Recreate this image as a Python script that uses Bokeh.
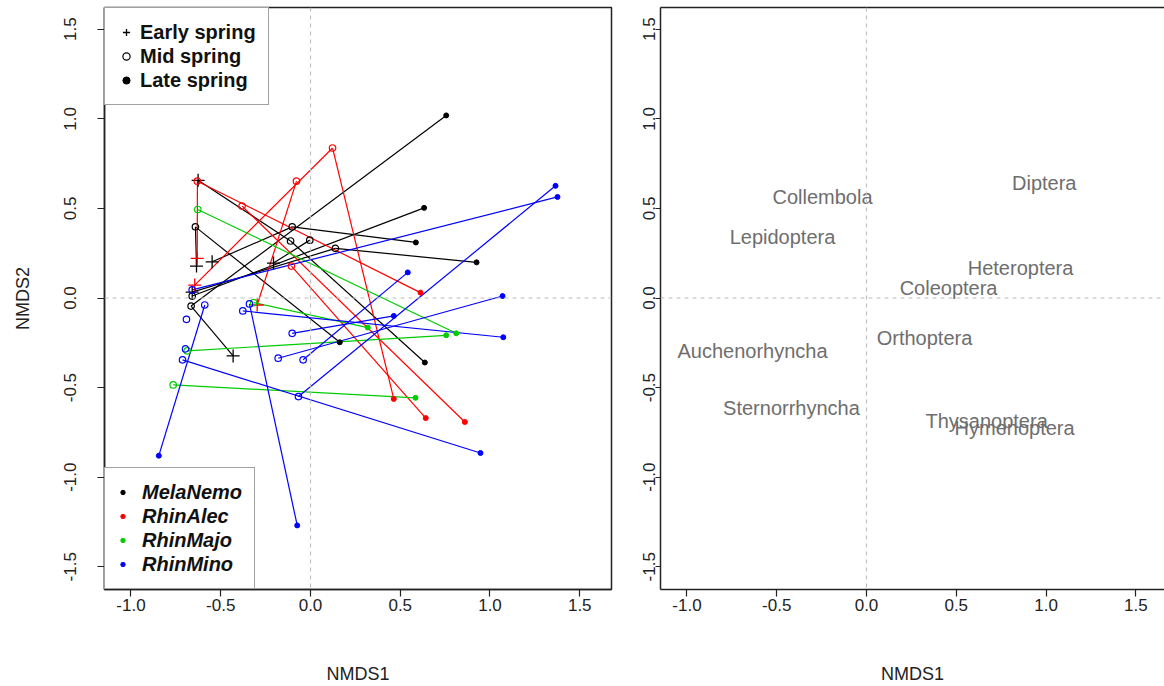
import math
from bokeh.plotting import figure
from bokeh.models import (ColumnDataSource, Legend, LegendItem, Span, FixedTicker,
                          LinearAxis, Range1d)
from bokeh.layouts import row
from bokeh.embed import file_html
from bokeh.resources import INLINE
from bokeh.core.properties import value

NaN = float("nan")

# ---------------- data ----------------
species_names = ["MelaNemo", "RhinAlec", "RhinMajo", "RhinMino"]
species_colors = ["#000000", "#FF0000", "#00CD00", "#0000FF"]
season_labels = ["Early spring", "Mid spring", "Late spring"]

# one entry per site: species index, NMDS coordinates in early / mid / late spring
site_species = [0, 0, 0, 0, 0, 0, 0,
                1, 1, 1, 1, 1,
                2, 2, 2, 2,
                3, 3, 3, 3, 3, 3, 3, 3, 3, 3, 3]
early_x = [-0.626, -0.548, -0.431, -0.635, -0.206, -0.659, NaN,
           -0.631, -0.645, -0.297, NaN, NaN,
           NaN, NaN, NaN, NaN,
           NaN, NaN, NaN, NaN, NaN, NaN, NaN, NaN, NaN, NaN, NaN]
early_y = [0.657, 0.202, -0.323, 0.178, 0.195, 0.033, NaN,
           0.221, 0.072, -0.039, NaN, NaN,
           NaN, NaN, NaN, NaN,
           NaN, NaN, NaN, NaN, NaN, NaN, NaN, NaN, NaN, NaN, NaN]
mid_x = [-0.111, -0.102, -0.665, -0.641, -0.004, 0.139, -0.659,
         -0.630, 0.123, -0.078, -0.381, -0.106,
         -0.628, -0.316, -0.687, -0.765,
         -0.659, -0.589, -0.340, -0.713, -0.102, -0.377, -0.180, -0.041, -0.067, -0.696, -0.691]
mid_y = [0.318, 0.397, -0.045, 0.397, 0.323, 0.277, 0.011,
         0.652, 0.837, 0.652, 0.513, 0.178,
         0.494, -0.026, -0.295, -0.485,
         0.045, -0.039, -0.033, -0.345, -0.197, -0.072, -0.336, -0.345, -0.550, -0.284, -0.119]
late_x = [0.637, 0.587, 0.756, 0.163, NaN, 0.925, 0.633,
          0.613, 0.464, NaN, 0.860, 0.642,
          0.812, 0.319, 0.756, 0.585,
          1.376, -0.845, -0.074, 0.947, 0.464, 1.074, 1.070, 0.542, 1.365, NaN, NaN]
late_y = [-0.360, 0.310, 1.019, -0.247, NaN, 0.199, 0.503,
          0.030, -0.563, NaN, -0.692, -0.670,
          -0.197, -0.165, -0.208, -0.557,
          0.564, -0.880, -1.269, -0.865, -0.100, -0.219, 0.011, 0.143, 0.626, NaN, NaN]

# taxa scores (right panel)
taxa_names = ["Diptera", "Collembola", "Lepidoptera", "Heteroptera", "Coleoptera",
              "Orthoptera", "Auchenorhyncha", "Sternorrhyncha", "Thysanoptera", "Hymenoptera"]
taxa_x = [0.99, -0.245, -0.468, 0.858, 0.457, 0.323, -0.635, -0.418, 0.669, 0.825]
taxa_y = [0.64, 0.563, 0.34, 0.167, 0.056, -0.223, -0.295, -0.613, -0.685, -0.724]

x_ticks = [-1.0, -0.5, 0.0, 0.5, 1.0, 1.5]
y_ticks = [-1.5, -1.0, -0.5, 0.0, 0.5, 1.0, 1.5]
tick_labels = {t: f"{t:.1f}" for t in sorted(set(x_ticks + y_ticks))}

FONT = "Liberation Sans"
AXIS_COL = "#222222"


def ok(v):
    return not (isinstance(v, float) and math.isnan(v))


def style_axes(p, show_ylabel, ylab="NMDS2"):
    p.xaxis.axis_label = "NMDS1"
    p.yaxis.axis_label = ylab if show_ylabel else None
    for ax in (p.xaxis[0], p.yaxis[0]):
        ax.axis_label_text_font = FONT
        ax.axis_label_text_font_style = "normal"
        ax.axis_label_text_font_size = "18px"
        ax.axis_label_text_color = AXIS_COL
        ax.major_label_text_font = FONT
        ax.major_label_text_font_size = "17px"
        ax.major_label_text_color = AXIS_COL
        ax.major_tick_out = 7
        ax.major_tick_in = 0
        ax.minor_tick_out = 0
        ax.minor_tick_in = 0
        ax.axis_line_color = AXIS_COL
        ax.axis_line_width = 1.5
        ax.major_tick_line_color = AXIS_COL
        ax.major_tick_line_width = 1.2
        ax.major_label_overrides = tick_labels
    p.xaxis[0].ticker = FixedTicker(ticks=x_ticks, minor_ticks=[])
    p.yaxis[0].ticker = FixedTicker(ticks=y_ticks, minor_ticks=[])
    p.xaxis[0].major_label_standoff = 2
    p.xaxis[0].axis_label_standoff = 50
    p.yaxis[0].major_label_orientation = "parallel"
    p.yaxis[0].major_label_standoff = 21
    p.yaxis[0].axis_label_standoff = 29
    p.xgrid.visible = False
    p.ygrid.visible = False
    for dim in ("width", "height"):
        p.add_layout(Span(location=0, dimension=dim, line_color="#BEBEBE",
                          line_dash="4 4", line_width=1.2))


# ---------------- left panel ----------------
p = figure(width=616, height=686, output_backend="svg", toolbar_location=None,
           x_range=Range1d(-1.1476, 1.6769), y_range=Range1d(-1.6267, 1.6212),
           min_border_left=104, min_border_right=5, min_border_top=7, min_border_bottom=96,
           background_fill_color="white", border_fill_color="white")
p.outline_line_color = AXIS_COL
p.outline_line_width = 1.5
style_axes(p, True)

seg = dict(x0=[], y0=[], x1=[], y1=[], c=[])
pts = {k: dict(x=[], y=[], c=[]) for k in ("early", "mid", "late")}
for i, s in enumerate(site_species):
    col = species_colors[s]
    e = (early_x[i], early_y[i])
    m = (mid_x[i], mid_y[i])
    l = (late_x[i], late_y[i])
    chain = [pt for pt in (e, m, l) if ok(pt[0])]
    for a, b in zip(chain[:-1], chain[1:]):
        seg["x0"].append(a[0]); seg["y0"].append(a[1])
        seg["x1"].append(b[0]); seg["y1"].append(b[1]); seg["c"].append(col)
    for key, pt in (("early", e), ("mid", m), ("late", l)):
        if ok(pt[0]):
            pts[key]["x"].append(pt[0]); pts[key]["y"].append(pt[1]); pts[key]["c"].append(col)

p.segment(x0="x0", y0="y0", x1="x1", y1="y1", line_color="c", line_width=1.2,
          source=ColumnDataSource(seg))
p.scatter("x", "y", marker="cross", size=13, line_color="c", line_width=1.3,
          source=ColumnDataSource(pts["early"]))
p.scatter("x", "y", marker="circle", size=6.5, line_color="c", fill_color=None, line_width=1.2,
          source=ColumnDataSource(pts["mid"]))
p.scatter("x", "y", marker="circle", size=5, line_color="c", fill_color="c",
          source=ColumnDataSource(pts["late"]))

# legend 1: seasons (renderers hold a single NaN point so that only the legend glyph shows)
dummy = dict(x=[NaN], y=[NaN])
r_e = p.scatter("x", "y", marker="cross", line_color="black", line_width=1.3, source=ColumnDataSource(dummy))
r_m = p.scatter("x", "y", marker="circle", line_color="black", fill_color=None, line_width=1.2,
                source=ColumnDataSource(dummy))
r_l = p.scatter("x", "y", marker="circle", line_color="black", fill_color="black",
                source=ColumnDataSource(dummy))
leg1 = Legend(items=[LegendItem(label=season_labels[0], renderers=[r_e]),
                     LegendItem(label=season_labels[1], renderers=[r_m]),
                     LegendItem(label=season_labels[2], renderers=[r_l])],
              location="top_left", margin=0, padding=12, spacing=0,
              glyph_width=18, glyph_height=24, label_height=24, label_standoff=5,
              label_text_font=FONT, label_text_font_style="bold", label_text_font_size="20px",
              label_text_color="#111111", border_line_color="#444444", border_line_width=1.5,
              background_fill_alpha=1.0)
p.add_layout(leg1)

# legend 2: species
sp_items = []
for name, col in zip(species_names, species_colors):
    r = p.scatter("x", "y", marker="circle", line_color=col, fill_color=col, source=ColumnDataSource(dummy))
    sp_items.append(LegendItem(label=name, renderers=[r]))
leg2 = Legend(items=sp_items, location="bottom_left", margin=0, padding=12, spacing=0,
              glyph_width=11, glyph_height=24, label_height=24, label_standoff=14,
              label_text_font=FONT, label_text_font_style="bold italic", label_text_font_size="20px",
              label_text_color="#111111", border_line_color="#444444", border_line_width=1.5,
              background_fill_alpha=1.0)
p.add_layout(leg2)

# ---------------- right panel ----------------
q = figure(width=548, height=686, output_backend="svg", toolbar_location=None,
           x_range=Range1d(-1.1476, 1.660), y_range=Range1d(-1.6267, 1.6212),
           min_border_left=44, min_border_right=0, min_border_top=7, min_border_bottom=96,
           background_fill_color="white", border_fill_color="white")
q.outline_line_color = None
style_axes(q, False)
q.yaxis[0].major_tick_out = 5
q.yaxis[0].major_label_standoff = 0
top_axis = LinearAxis(ticker=FixedTicker(ticks=[]), major_label_text_font_size="0px",
                      axis_line_color=AXIS_COL, axis_line_width=1.5,
                      major_tick_line_color=None, minor_tick_line_color=None)
q.add_layout(top_axis, "above")
q.min_border_top = 7

q.text(x="x", y="y", text="t", source=ColumnDataSource(dict(x=taxa_x, y=taxa_y, t=taxa_names)),
       text_align="center", text_baseline="middle", text_font=value(FONT),
       text_font_size="20px", text_color="#6E6E6E")

layout = row(p, q)
open("out.html", "w").write(file_html(layout, INLINE))
